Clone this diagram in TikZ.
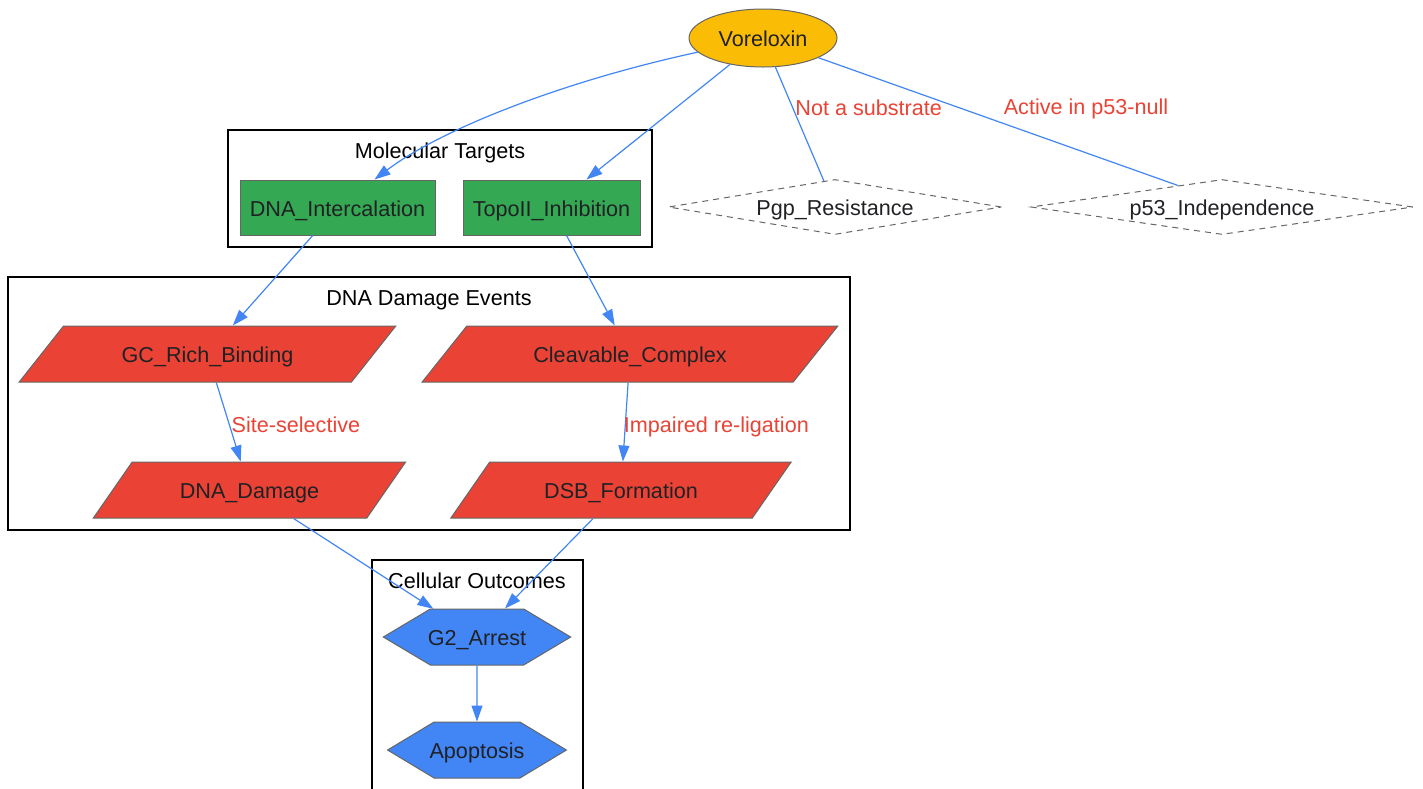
\documentclass[tikz,border=0pt]{standalone}
\usepackage{fontspec}
\setmainfont{Liberation Sans}
\usetikzlibrary{shapes.geometric,shapes.symbols,arrows.meta}
\definecolor{gyellow}{HTML}{FBBC05}
\definecolor{ggreen}{HTML}{34A853}
\definecolor{gred}{HTML}{EA4335}
\definecolor{gblue}{HTML}{4285F4}
\definecolor{nodegray}{HTML}{666666}
\definecolor{textdark}{HTML}{202124}

\begin{document}
\begin{tikzpicture}[x=0.5pt,y=-0.5pt,
  font=\fontsize{10.8}{13}\selectfont,
  lbl/.style={text height=9pt,text depth=0.5pt},
  box/.style={draw=nodegray,line width=0.5pt,text=textdark,inner sep=0pt,lbl},
  drug/.style={box,ellipse,fill=gyellow,minimum width=74pt,minimum height=29pt},
  target/.style={box,rectangle,fill=ggreen,minimum height=27.5pt},
  event/.style={box,trapezium,trapezium stretches=true,fill=gred,minimum height=28pt},
  outcome/.style={box,signal,signal to=west and east,fill=gblue,minimum height=28pt},
  factor/.style={draw=nodegray,line width=0.5pt,dash pattern=on 3pt off 2.5pt,diamond,aspect=7,inner sep=1pt,text=textdark,lbl,minimum height=27.5pt},
  cluster/.style={draw=black,line width=0.6pt},
  link/.style={draw=gblue,line width=0.6pt,-{Triangle[length=8pt,width=5.5pt]}},
  bare/.style={draw=gblue,line width=0.6pt},
  note/.style={text=gred,inner sep=0pt,anchor=west}]
\useasboundingbox (0,0) rectangle (1423,788);

% clusters
\draw[cluster] (228,130) rectangle (652,247);
\node[lbl] (targets) at (440,150) {Molecular Targets};
\draw[cluster] (8,277) rectangle (850,530);
\node[lbl] (events) at (429,297) {DNA Damage Events};
\draw[cluster] (372,560) rectangle (583,800);
\node[lbl] (outcomes) at (477,580) {Cellular Outcomes};

% nodes
\node[drug] (vor) at (763,38) {Voreloxin};
\node[target,minimum width=97.5pt] (dnaint) at (337.5,207.5) {DNA\_Intercalation};
\node[target,minimum width=88.5pt] (topo) at (551.5,207.5) {TopoII\_Inhibition};
\node[factor,minimum width=166.5pt] (pgp) at (835,207) {Pgp\_Resistance};
\node[factor,minimum width=191pt] (p53) at (1222,207) {p53\_Independence};

\node[event,minimum width=188.5pt,trapezium left angle=35.7,trapezium right angle=144.3] (gc) at (207.5,354) {GC\_Rich\_Binding};
\node[event,minimum width=208pt,trapezium left angle=35.7,trapezium right angle=144.3] (cleav) at (630,354) {Cleavable\_Complex};
\node[event,minimum width=157.5pt,trapezium left angle=39.5,trapezium right angle=140.5] (damage) at (249.5,490) {DNA\_Damage};
\node[event,minimum width=171pt,trapezium left angle=39.9,trapezium right angle=140.1] (dsb) at (621,490) {DSB\_Formation};

\node[outcome,inner xsep=-1.25pt,signal pointer angle=61.6] (arrest) at (477,637) {G2\_Arrest};
\node[outcome,inner xsep=-2.25pt,signal pointer angle=62.1] (apop) at (477,750) {Apoptosis};

% edges
\draw[link] (vor) .. controls (560,82) and (440,130) .. (dnaint);
\draw[link] (vor) -- (topo);
\draw[bare] (vor) -- (pgp) node[note,pos=0.36,xshift=1pt] {Not a substrate};
\draw[bare] (vor) -- (p53.154) node[note,pos=0.4,xshift=20.5pt] {Active in p53-null};
\draw[link] (dnaint) -- (gc);
\draw[link] (topo) -- (cleav);
\draw[link] (gc) -- (damage) node[note,lbl,pos=0.525,xshift=1pt] {Site-selective};
\draw[link] (cleav) -- (dsb) node[note,lbl,pos=0.525,xshift=-1pt] {Impaired re-ligation};
\draw[link] (damage) -- (arrest);
\draw[link] (dsb) -- (arrest);
\draw[link] (arrest) -- (apop);
\end{tikzpicture}
\end{document}
